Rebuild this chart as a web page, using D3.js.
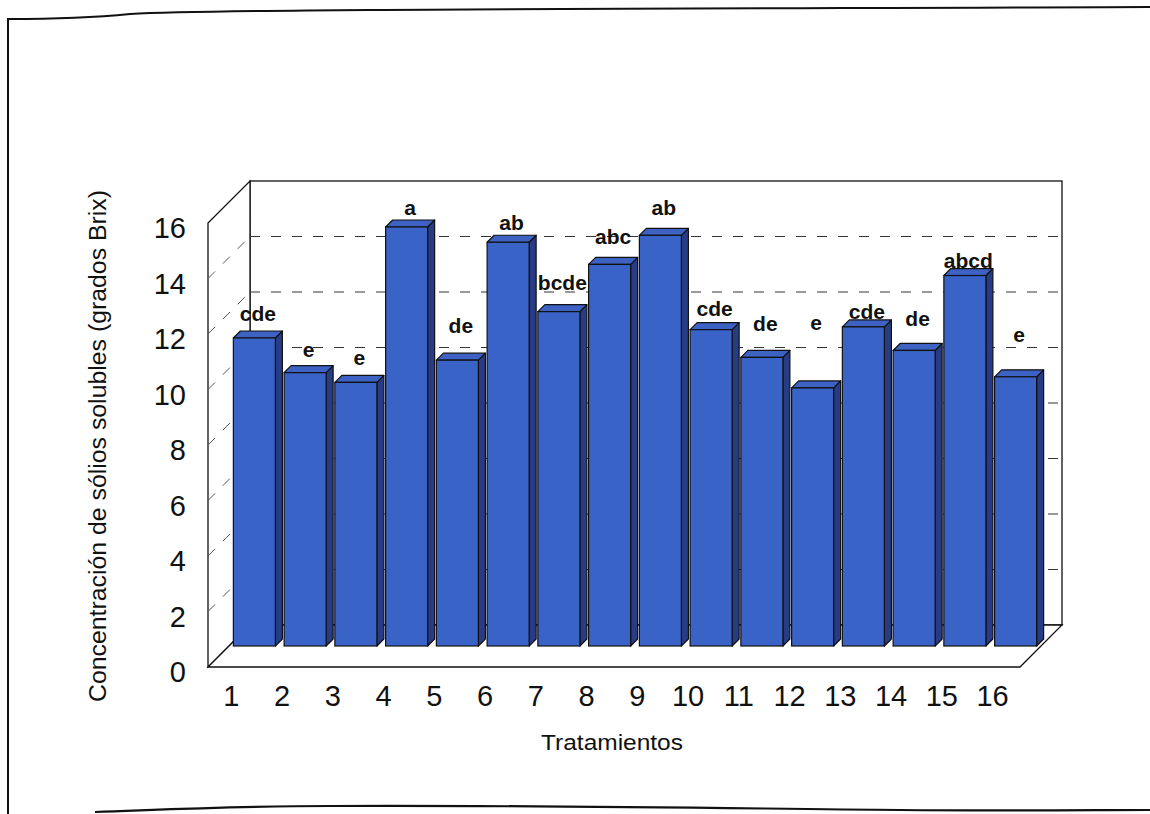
<!DOCTYPE html>
<html>
<head>
<meta charset="utf-8">
<script src="https://cdn.jsdelivr.net/npm/d3@7"></script>
<style>
  html, body { margin: 0; padding: 0; background: #fff; }
  svg { display: block; font-family: "Liberation Sans", Arial, sans-serif; }
</style>
</head>
<body>
<svg id="chart" width="1150" height="814"></svg>
<script>
// Treatments on the category axis
const treatments = ["1","2","3","4","5","6","7","8","9","10","11","12","13","14","15","16"];
// Mean soluble solids (°Brix) per treatment
const brix = [11.1, 9.85, 9.5, 15.1, 10.3, 14.55, 12.05, 13.75, 14.8, 11.4, 10.4, 9.3, 11.5, 10.65, 13.35, 9.7];
// Mean-separation letters per treatment
const groups = ["cde","e","e","a","de","ab","bcde","abc","ab","cde","de","e","cde","de","abcd","e"];
// Value-axis tick labels
const yTicks = [0, 2, 4, 6, 8, 10, 12, 14, 16];
// Extra lift (px) for each letter above its bar
const letterRaise = [24, 23, 25, 19, 35, 20, 29, 28, 28, 21, 34, 65, 15, 32, 15, 42];

const svg = d3.select("#chart");

// Outer frame of the figure
svg.append("path")
  .attr("d", "M8,814 L8,19 C60,19 90,18 130,14 C220,9 600,9 1150,7")
  .attr("fill", "none").attr("stroke", "#111").attr("stroke-width", 2);
svg.append("path")
  .attr("d", "M95,812 C180,809 240,806 330,806 C520,805 700,808 900,810 C1000,811 1100,810 1150,810")
  .attr("fill", "none").attr("stroke", "#111").attr("stroke-width", 2.2);

// Oblique 3-D box geometry
const fx0 = 208, fx1 = 1020;     // front edge of the floor
const depth = 42;                // wall depth offset (x right, y up)
const barShift = 21;             // bars stand half-way into the box
const barDepth = 7;              // thickness of each column

const x = d3.scaleBand().domain(treatments).range([fx0, fx1])
  .paddingInner(0.172).paddingOuter(0.086);
const y = d3.scaleLinear().domain([0, 16]).range([667, 223]);
const bw = x.bandwidth();

const g = svg.append("g");
const edge = "#111";

// Back wall
g.append("rect")
  .attr("x", fx0 + depth).attr("y", y(16) - depth)
  .attr("width", fx1 - fx0).attr("height", y(0) - y(16))
  .attr("fill", "#fff").attr("stroke", edge).attr("stroke-width", 1.3);

// Left wall
g.append("path")
  .attr("d", `M${fx0},${y(0)} L${fx0},${y(16)} L${fx0 + depth},${y(16) - depth} L${fx0 + depth},${y(0) - depth} Z`)
  .attr("fill", "#fff").attr("stroke", edge).attr("stroke-width", 1.3);

// Dashed gridlines on the back wall and left wall
const gridVals = yTicks.filter(v => v > 0 && v < 16);
g.selectAll("line.back-grid").data(gridVals).join("line")
  .attr("class", "back-grid")
  .attr("x1", fx0 + depth).attr("x2", fx1 + depth)
  .attr("y1", d => y(d) - depth).attr("y2", d => y(d) - depth)
  .attr("stroke", "#333").attr("stroke-width", 1)
  .attr("stroke-dasharray", "10,11");
g.selectAll("line.side-grid").data(gridVals).join("line")
  .attr("class", "side-grid")
  .attr("x1", fx0).attr("x2", fx0 + depth)
  .attr("y1", d => y(d)).attr("y2", d => y(d) - depth)
  .attr("stroke", "#555").attr("stroke-width", 1)
  .attr("stroke-dasharray", "10,11");

// Floor
g.append("path")
  .attr("d", `M${fx0},${y(0)} L${fx1},${y(0)} L${fx1 + depth},${y(0) - depth} L${fx0 + depth},${y(0) - depth} Z`)
  .attr("fill", "#fff").attr("stroke", edge).attr("stroke-width", 1.3);

// Columns: side, top and front faces
const bars = g.selectAll("g.bar").data(treatments.map((t, i) => ({t, v: brix[i], i}))).join("g")
  .attr("class", "bar");

const geom = d => {
  const x0 = x(d.t) + barShift, x1 = x0 + bw;
  const yt = y(d.v) - barShift, yb = y(0) - barShift;
  return {x0, x1, yt, yb};
};

bars.append("path")
  .attr("d", d => { const b = geom(d);
    return `M${b.x1},${b.yt} L${b.x1 + barDepth},${b.yt - barDepth} L${b.x1 + barDepth},${b.yb - barDepth} L${b.x1},${b.yb} Z`; })
  .attr("fill", "#283c86").attr("stroke", edge).attr("stroke-width", 1.2).attr("stroke-linejoin", "round");
bars.append("path")
  .attr("d", d => { const b = geom(d);
    return `M${b.x0},${b.yt} L${b.x0 + barDepth},${b.yt - barDepth} L${b.x1 + barDepth},${b.yt - barDepth} L${b.x1},${b.yt} Z`; })
  .attr("fill", "#3d62c4").attr("stroke", edge).attr("stroke-width", 1.2).attr("stroke-linejoin", "round");
bars.append("rect")
  .attr("x", d => geom(d).x0).attr("y", d => geom(d).yt)
  .attr("width", bw).attr("height", d => geom(d).yb - geom(d).yt)
  .attr("fill", "#3a63c8").attr("stroke", edge).attr("stroke-width", 1.2);

// Mean-separation letters above the columns
g.selectAll("text.letter").data(groups).join("text")
  .attr("class", "letter")
  .attr("x", (d, i) => x(treatments[i]) + barShift + bw / 2 + barDepth / 2)
  .attr("y", (d, i) => y(brix[i]) - barShift - letterRaise[i])
  .attr("text-anchor", "middle").attr("dominant-baseline", "central")
  .attr("font-size", 21).attr("font-weight", "bold").attr("fill", "#111")
  .text(d => d);

// Value-axis labels along the front-left edge
g.selectAll("text.ytick").data(yTicks).join("text")
  .attr("class", "ytick")
  .attr("x", 186).attr("y", d => y(d) + 5)
  .attr("text-anchor", "end").attr("dominant-baseline", "central")
  .attr("font-size", 29).attr("fill", "#111")
  .text(d => d);

// Category labels along the front edge of the floor
g.selectAll("text.xtick").data(treatments).join("text")
  .attr("class", "xtick")
  .attr("x", d => x(d) + bw / 2 - 2).attr("y", 706)
  .attr("text-anchor", "middle")
  .attr("font-size", 29).attr("fill", "#111")
  .text(d => d);

// Axis titles
svg.append("text")
  .attr("transform", "translate(98,446) rotate(-90)")
  .attr("text-anchor", "middle").attr("dominant-baseline", "central")
  .attr("font-size", 23).attr("fill", "#111")
  .attr("textLength", 512).attr("lengthAdjust", "spacingAndGlyphs")
  .text("Concentración de sólios solubles (grados Brix)");
svg.append("text")
  .attr("x", 612).attr("y", 750)
  .attr("text-anchor", "middle")
  .attr("font-size", 22).attr("fill", "#111")
  .attr("textLength", 142).attr("lengthAdjust", "spacingAndGlyphs")
  .text("Tratamientos");
</script>
</body>
</html>
